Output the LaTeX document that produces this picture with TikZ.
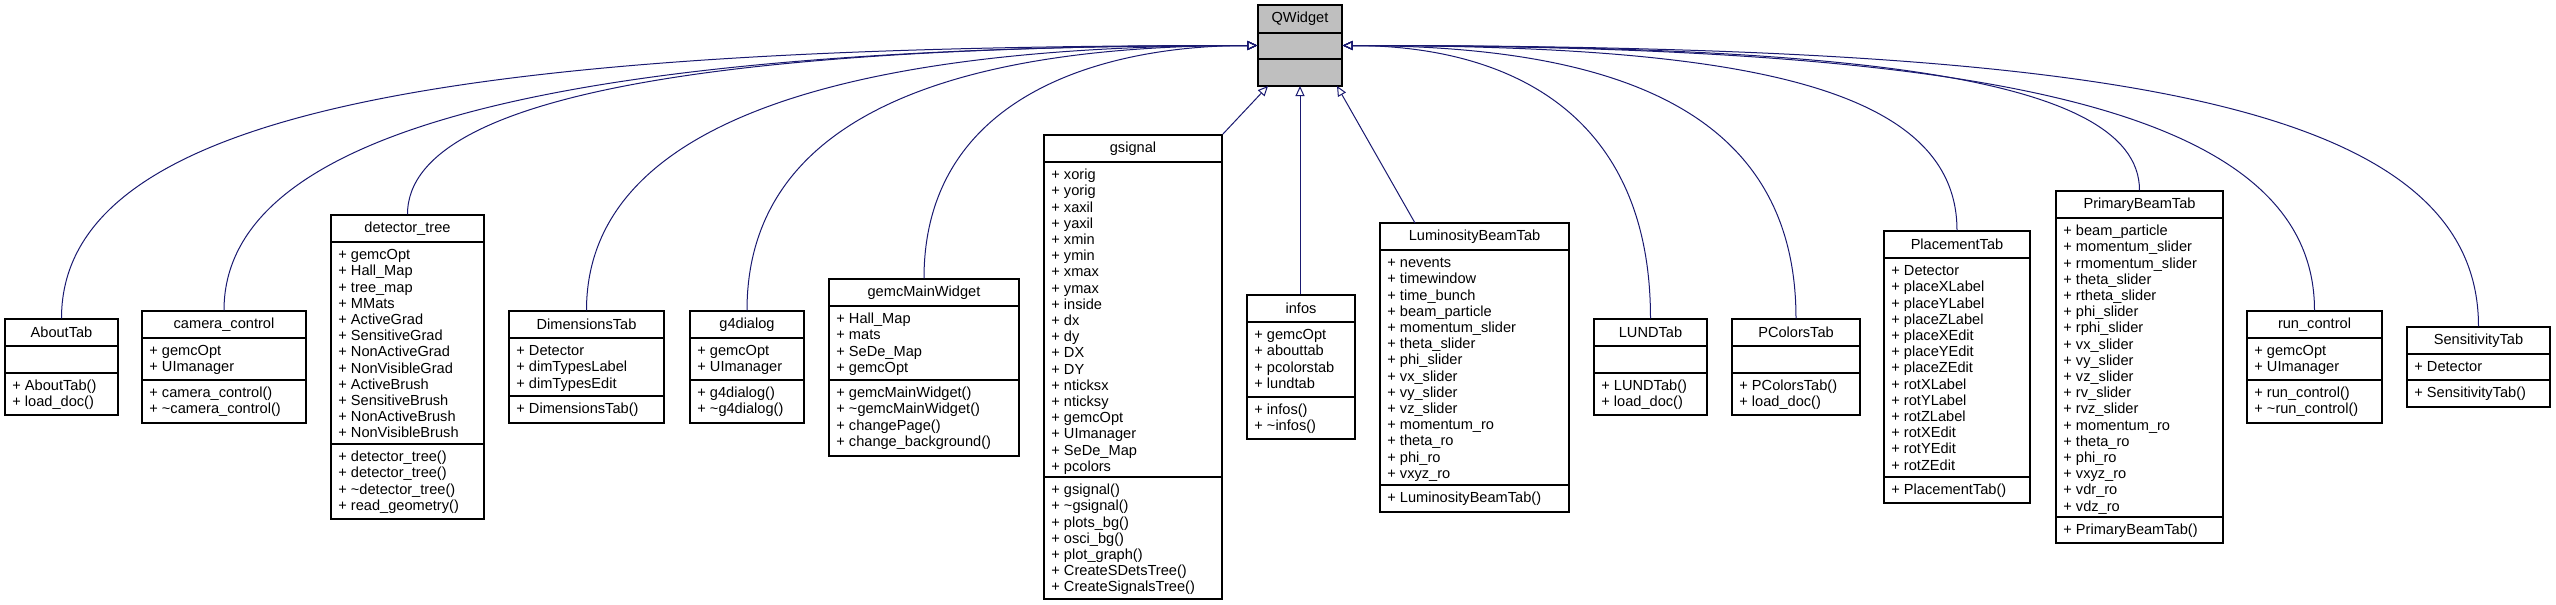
\documentclass[tikz,border=0pt]{standalone}
\usepackage{fontspec}
\setmainfont{Liberation Sans}
\usetikzlibrary{arrows.meta,fit}
\definecolor{edgeblue}{RGB}{25,25,112}
\definecolor{basegray}{RGB}{191,191,191}
\tikzset{>=stealth}
\newcommand{\lst}[1]{\begin{tabular}{@{}l@{}}#1\end{tabular}}
% class box: name, x1, y1, x2, y2, first rule, second rule, title, attributes, operations
\newcommand{\umlclass}[9]{%
  \node[box, fit={(#2,#3)(#4,#5)}] (#1) {};
  \draw[rule] (#2,#6) -- (#4,#6);
  \draw[rule] (#2,#7) -- (#4,#7);
  \node[txt] at ({(#2+#4)/2},{(#3+#6)/2}) {#8};
  \node[txt, anchor=north west] at ({#2+7},{#6+6}) {\lst{#9}};
  \umlops}
\newcommand{\umlops}{}
\begin{document}
\begin{tikzpicture}[x=0.5pt,y=-0.5pt,
    box/.style={draw, line width=0.7pt, inner sep=0pt},
    rule/.style={line width=0.7pt},
    txt/.style={font=\fontsize{7.3}{8.1}\selectfont, inner sep=0pt},
    inh/.style={edgeblue, line width=0.5pt, -{Triangle[open, length=5pt, width=4.5pt]}}]
  \useasboundingbox (0,0) rectangle (2556,605);
  % base class
  \node[box, fill=basegray, fit={(1258,5)(1342,86)}] (qwidget) {};
  \draw[rule] (1258,33) -- (1342,33);
  \draw[rule] (1258,59) -- (1342,59);
  \node[txt] at (1300,19) {QWidget};
  % derived classes
  \umlclass{abouttab}{5}{319}{118}{415}{346}{373}{AboutTab}{}
  \node[txt, anchor=north west] at (12,379) {\lst{+ AboutTab()\\+ load\_doc()}};
  \umlclass{cameractl}{142}{311}{306}{423}{338}{380}{camera\_control}{+ gemcOpt\\+ UImanager}
  \node[txt, anchor=north west] at (149,386) {\lst{+ camera\_control()\\+ \textasciitilde camera\_control()}};
  \umlclass{dettree}{331}{215}{484}{519}{242}{444}{detector\_tree}{+ gemcOpt\\+ Hall\_Map\\+ tree\_map\\+ MMats\\+ ActiveGrad\\+ SensitiveGrad\\+ NonActiveGrad\\+ NonVisibleGrad\\+ ActiveBrush\\+ SensitiveBrush\\+ NonActiveBrush\\+ NonVisibleBrush}
  \node[txt, anchor=north west] at (338,450) {\lst{+ detector\_tree()\\+ detector\_tree()\\+ \textasciitilde detector\_tree()\\+ read\_geometry()}};
  \umlclass{dimtab}{509}{311}{664}{423}{338}{396}{DimensionsTab}{+ Detector\\+ dimTypesLabel\\+ dimTypesEdit}
  \node[txt, anchor=north west] at (516,402) {\lst{+ DimensionsTab()}};
  \umlclass{gfourdlg}{690}{311}{804}{423}{338}{380}{g4dialog}{+ gemcOpt\\+ UImanager}
  \node[txt, anchor=north west] at (697,386) {\lst{+ g4dialog()\\+ \textasciitilde g4dialog()}};
  \umlclass{gemcmain}{829}{279}{1019}{456}{306}{380}{gemcMainWidget}{+ Hall\_Map\\+ mats\\+ SeDe\_Map\\+ gemcOpt}
  \node[txt, anchor=north west] at (836,386) {\lst{+ gemcMainWidget()\\+ \textasciitilde gemcMainWidget()\\+ changePage()\\+ change\_background()}};
  \umlclass{gsignal}{1044}{135}{1222}{599}{162}{477}{gsignal}{+ xorig\\+ yorig\\+ xaxil\\+ yaxil\\+ xmin\\+ ymin\\+ xmax\\+ ymax\\+ inside\\+ dx\\+ dy\\+ DX\\+ DY\\+ nticksx\\+ nticksy\\+ gemcOpt\\+ UImanager\\+ SeDe\_Map\\+ pcolors}
  \node[txt, anchor=north west] at (1051,483) {\lst{+ gsignal()\\+ \textasciitilde gsignal()\\+ plots\_bg()\\+ osci\_bg()\\+ plot\_graph()\\+ CreateSDetsTree()\\+ CreateSignalsTree()}};
  \umlclass{infos}{1247}{295}{1355}{439}{322}{397}{infos}{+ gemcOpt\\+ abouttab\\+ pcolorstab\\+ lundtab}
  \node[txt, anchor=north west] at (1254,403) {\lst{+ infos()\\+ \textasciitilde infos()}};
  \umlclass{lumitab}{1380}{223}{1569}{512}{250}{485}{LuminosityBeamTab}{+ nevents\\+ timewindow\\+ time\_bunch\\+ beam\_particle\\+ momentum\_slider\\+ theta\_slider\\+ phi\_slider\\+ vx\_slider\\+ vy\_slider\\+ vz\_slider\\+ momentum\_ro\\+ theta\_ro\\+ phi\_ro\\+ vxyz\_ro}
  \node[txt, anchor=north west] at (1387,491) {\lst{+ LuminosityBeamTab()}};
  \umlclass{lundtab}{1594}{319}{1707}{415}{346}{373}{LUNDTab}{}
  \node[txt, anchor=north west] at (1601,379) {\lst{+ LUNDTab()\\+ load\_doc()}};
  \umlclass{pcolorstab}{1732}{319}{1860}{415}{346}{373}{PColorsTab}{}
  \node[txt, anchor=north west] at (1739,379) {\lst{+ PColorsTab()\\+ load\_doc()}};
  \umlclass{placetab}{1884}{231}{2030}{503}{258}{477}{PlacementTab}{+ Detector\\+ placeXLabel\\+ placeYLabel\\+ placeZLabel\\+ placeXEdit\\+ placeYEdit\\+ placeZEdit\\+ rotXLabel\\+ rotYLabel\\+ rotZLabel\\+ rotXEdit\\+ rotYEdit\\+ rotZEdit}
  \node[txt, anchor=north west] at (1891,483) {\lst{+ PlacementTab()}};
  \umlclass{primtab}{2056}{191}{2223}{543}{218}{517}{PrimaryBeamTab}{+ beam\_particle\\+ momentum\_slider\\+ rmomentum\_slider\\+ theta\_slider\\+ rtheta\_slider\\+ phi\_slider\\+ rphi\_slider\\+ vx\_slider\\+ vy\_slider\\+ vz\_slider\\+ rv\_slider\\+ rvz\_slider\\+ momentum\_ro\\+ theta\_ro\\+ phi\_ro\\+ vxyz\_ro\\+ vdr\_ro\\+ vdz\_ro}
  \node[txt, anchor=north west] at (2063,523) {\lst{+ PrimaryBeamTab()}};
  \umlclass{runctl}{2247}{311}{2382}{423}{338}{380}{run\_control}{+ gemcOpt\\+ UImanager}
  \node[txt, anchor=north west] at (2254,386) {\lst{+ run\_control()\\+ \textasciitilde run\_control()}};
  \umlclass{senstab}{2407}{327}{2550}{407}{354}{380}{SensitivityTab}{+ Detector}
  \node[txt, anchor=north west] at (2414,386) {\lst{+ SensitivityTab()}};
  % inheritance
  \foreach \c/\h/\w in {abouttab/220/750, cameractl/200/620, dettree/130/480, dimtab/200/380, gfourdlg/210/270, gemcmain/180/160}
    \draw[inh] (\c.north) .. controls +(0,-\h) and +(-\w,0) .. (qwidget.west);
  \foreach \c/\h/\w in {lundtab/210/160, pcolorstab/210/270, placetab/150/380, primtab/120/480, runctl/210/620, senstab/230/750}
    \draw[inh] (\c.north) .. controls +(0,-\h) and +(\w,0) .. (qwidget.east);
  \coordinate (gsigtop) at (1268,86);
  \coordinate (infotop) at (1300,86);
  \coordinate (lumitop) at (1337,86);
  \coordinate (lumifoot) at (1415,223);
  \draw[inh] (gsignal.north east) -- (gsigtop);
  \draw[inh] (infos.north -| infotop) -- (infotop);
  \draw[inh] (lumifoot) -- (lumitop);
\end{tikzpicture}
\end{document}
